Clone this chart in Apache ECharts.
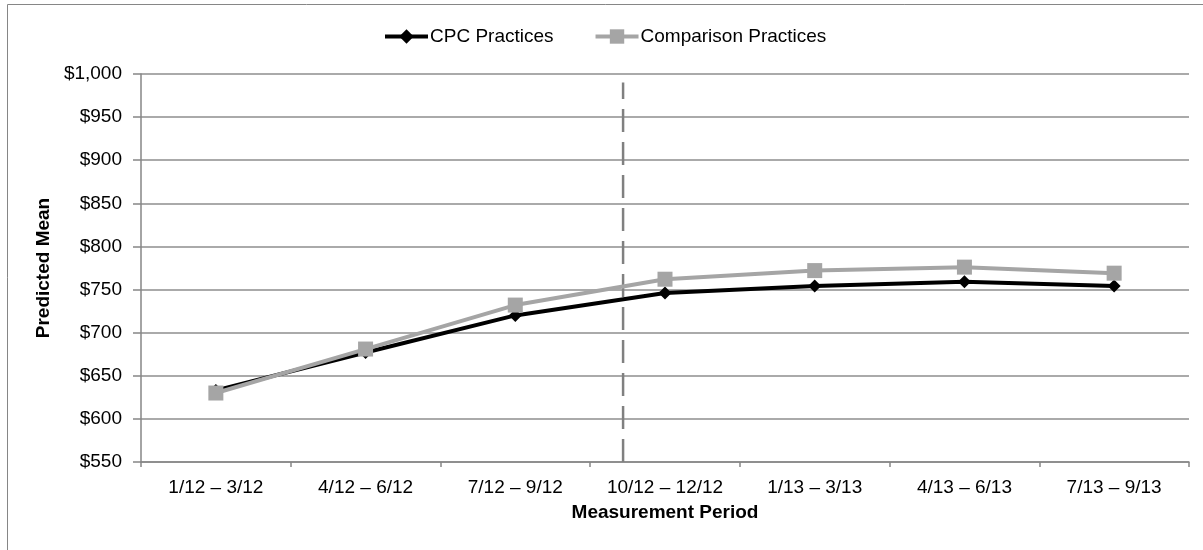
<!DOCTYPE html>
<html>
<head>
<meta charset="utf-8">
<script src="https://cdn.jsdelivr.net/npm/echarts@6/dist/echarts.min.js"></script>
<style>
html,body{margin:0;padding:0;background:#fff;}
#chart{width:1203px;height:550px;}
</style>
</head>
<body>
<div id="chart"></div>
<script>
const categories = ['1/12 \u2013 3/12','4/12 \u2013 6/12','7/12 \u2013 9/12','10/12 \u2013 12/12','1/13 \u2013 3/13','4/13 \u2013 6/13','7/13 \u2013 9/13'];
const cpcValues = [633, 677, 720, 746, 754, 759, 754];
const comparisonValues = [630, 681, 732, 762, 772, 776, 769];
const seriesNames = ['CPC Practices', 'Comparison Practices'];
const interventionX = 3.22;          // position on a 0..7 category-span scale
const interventionRange = [550, 990];
const yMin = 550, yMax = 1000, yStep = 50;

const FONT = 'Liberation Sans, Arial, sans-serif';
const chart = echarts.init(document.getElementById('chart'), null, {renderer: 'canvas'});

chart.setOption({
  animation: false,
  backgroundColor: '#fff',
  textStyle: {fontFamily: FONT},
  graphic: [{
    type: 'rect',
    shape: {x: 7.5, y: 4.5, width: 1230, height: 580},
    style: {fill: 'none', stroke: '#868686', lineWidth: 1},
    silent: true, z: -10
  }],
  legend: {
    data: seriesNames,
    left: 383, top: 27,
    itemWidth: 43, itemHeight: 18, itemGap: 40,
    lineStyle: {width: 4},
    textStyle: {fontSize: 19, color: '#000', fontFamily: FONT, padding: [0, 0, 0, -3]},
    padding: 0
  },
  grid: {left: 141, right: 14, top: 74, bottom: 88, containLabel: false},
  xAxis: [{
    type: 'category',
    data: categories,
    boundaryGap: true,
    name: 'Measurement Period',
    nameLocation: 'middle',
    nameGap: 41,
    nameTextStyle: {fontSize: 19, fontWeight: 'bold', color: '#000', fontFamily: FONT},
    axisLine: {lineStyle: {color: '#868686', width: 1.5}},
    axisTick: {show: true, length: 5, alignWithLabel: false, lineStyle: {color: '#868686', width: 1.5}},
    axisLabel: {fontSize: 19, color: '#000', margin: 16, fontFamily: FONT, interval: 0},
    splitLine: {show: false}
  }, {
    type: 'value', min: 0, max: 7, show: false
  }],
  yAxis: {
    type: 'value',
    min: yMin, max: yMax, interval: yStep,
    name: 'Predicted Mean',
    nameLocation: 'middle',
    nameGap: 86,
    nameTextStyle: {fontSize: 19, fontWeight: 'bold', color: '#000', fontFamily: FONT},
    axisLine: {show: true, lineStyle: {color: '#868686', width: 1.5}},
    axisTick: {show: true, length: 8, lineStyle: {color: '#868686', width: 1.5}},
    axisLabel: {
      fontSize: 19, color: '#000', margin: 19, fontFamily: FONT,
      formatter: v => '$' + v.toLocaleString('en-US')
    },
    splitLine: {show: true, lineStyle: {color: '#8e8e8e', width: 1.5}}
  },
  series: [{
    name: 'Intervention',
    type: 'line',
    xAxisIndex: 1,
    data: [[interventionX, interventionRange[0]], [interventionX, interventionRange[1]]],
    symbol: 'none',
    silent: true,
    lineStyle: {color: '#808080', width: 2.5, type: [23, 10]},
    z: 1
  }, {
    name: seriesNames[0],
    type: 'line',
    data: cpcValues,
    symbol: 'diamond',
    symbolSize: 13,
    color: '#000',
    itemStyle: {color: '#000'},
    lineStyle: {color: '#000', width: 4},
    z: 3
  }, {
    name: seriesNames[1],
    type: 'line',
    data: comparisonValues,
    symbol: 'rect',
    symbolSize: 15,
    color: '#a5a5a5',
    itemStyle: {color: '#a5a5a5'},
    lineStyle: {color: '#a5a5a5', width: 4},
    z: 4
  }]
});
</script>
</body>
</html>
